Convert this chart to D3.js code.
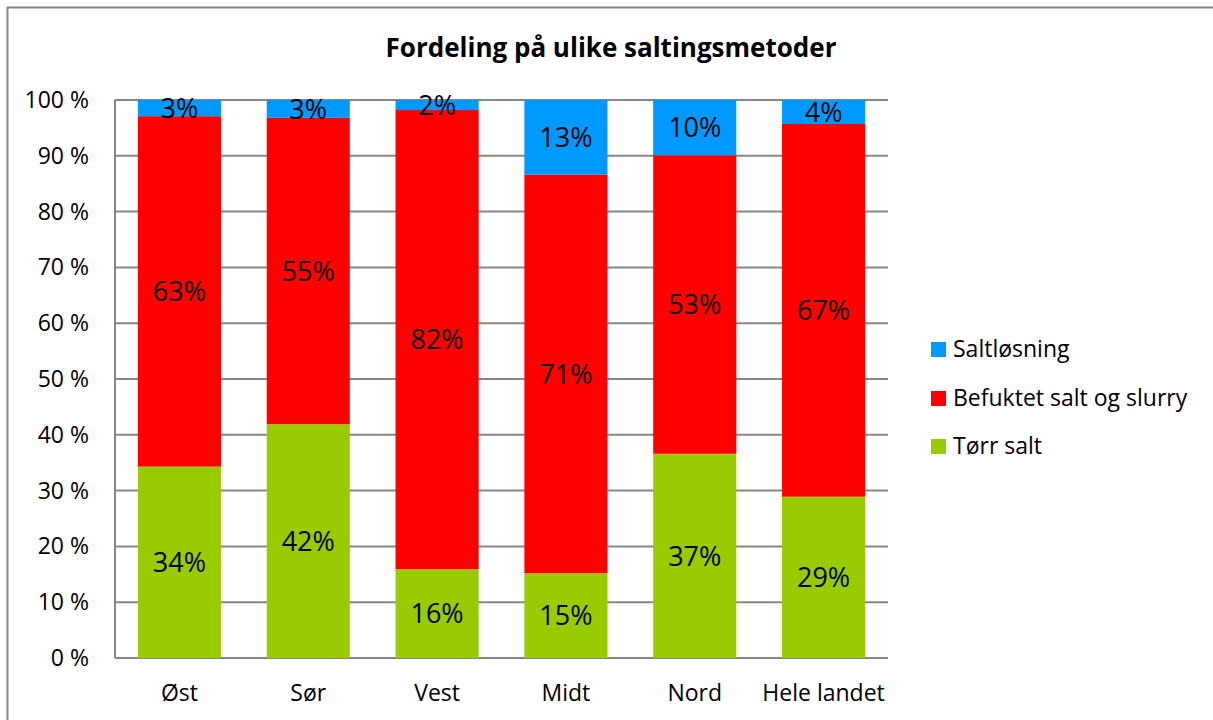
<!DOCTYPE html>
<html>
<head>
<meta charset="utf-8">
<script src="https://cdn.jsdelivr.net/npm/d3@7"></script>
<style>
  body { margin: 0; background: #fff; }
  text { font-family: "Open Sans", "Noto Sans", sans-serif; fill: #000; }
</style>
</head>
<body>
<svg id="chart"></svg>
<script>
// data
var regions = ["Øst", "Sør", "Vest", "Midt", "Nord", "Hele landet"];
var torrSalt = [34.3, 41.9, 15.9, 15.2, 36.6, 28.9];
var befuktet = [62.8, 54.9, 82.3, 71.4, 53.5, 66.8];
var saltlosning = [2.9, 3.2, 1.8, 13.4, 9.9, 4.3];
var seriesNames = ["Tørr salt", "Befuktet salt og slurry", "Saltløsning"];
var seriesLabels = [["34%", "42%", "16%", "15%", "37%", "29%"],
                    ["63%", "55%", "82%", "71%", "53%", "67%"],
                    ["3%", "3%", "2%", "13%", "10%", "4%"]];
var colors = ["#99CC00", "#FF0000", "#0099FF"];
var yTicks = [0, 10, 20, 30, 40, 50, 60, 70, 80, 90, 100];

var width = 1213, height = 720;
var margin = {left: 115, right: 325, top: 100, bottom: 62};

var svg = d3.select("#chart")
    .attr("width", width)
    .attr("height", height);

// outer frame
svg.append("rect")
    .attr("x", 7.5).attr("y", 7.5)
    .attr("width", width + 20).attr("height", height + 20)
    .attr("fill", "none")
    .attr("stroke", "#868686")
    .attr("stroke-width", 2);

svg.append("text")
    .attr("x", 611).attr("y", 57)
    .attr("text-anchor", "middle")
    .style("font-size", "26px")
    .style("font-weight", "bold")
    .text("Fordeling på ulike saltingsmetoder");

var x = d3.scaleBand()
    .domain(regions)
    .range([margin.left, width - margin.right])
    .paddingInner(0.355)
    .paddingOuter(0.1775);

var y = d3.scaleLinear()
    .domain([0, 100])
    .range([height - margin.bottom, margin.top]);

// gridlines
svg.append("g")
    .selectAll("line")
    .data(yTicks)
    .enter()
    .append("line")
    .attr("x1", margin.left).attr("x2", width - margin.right)
    .attr("y1", function(d){ return y(d); })
    .attr("y2", function(d){ return y(d); })
    .attr("stroke", "#868686")
    .attr("stroke-width", 2);

// y axis line
svg.append("line")
    .attr("x1", margin.left).attr("x2", margin.left)
    .attr("y1", y(0)).attr("y2", y(100))
    .attr("stroke", "#868686")
    .attr("stroke-width", 2);

// y tick labels
svg.append("g")
    .selectAll("text")
    .data(yTicks)
    .enter()
    .append("text")
    .attr("x", margin.left - 26)
    .attr("y", function(d){ return y(d); })
    .attr("dy", "0.35em")
    .attr("text-anchor", "end")
    .style("font-size", "23px")
    .text(function(d){ return d + " %"; });

// x labels
svg.append("g")
    .selectAll("text")
    .data(regions)
    .enter()
    .append("text")
    .attr("x", function(d){ return x(d) + x.bandwidth() / 2; })
    .attr("y", height - margin.bottom + 43)
    .attr("text-anchor", "middle")
    .style("font-size", "23px")
    .text(function(d){ return d; });

// stacked data
var table = regions.map(function(r, i){
    return {region: r, s0: torrSalt[i], s1: befuktet[i], s2: saltlosning[i]};
});
var stack = d3.stack().keys(["s0", "s1", "s2"]);
var layers = stack(table);

var g = svg.append("g")
    .selectAll("g")
    .data(layers)
    .enter()
    .append("g")
    .attr("fill", function(d, i){ return colors[i]; });

g.selectAll("rect")
    .data(function(d){ return d; })
    .enter()
    .append("rect")
    .attr("x", function(d){ return x(d.data.region); })
    .attr("width", x.bandwidth())
    .attr("y", function(d){ return y(d[1]); })
    .attr("height", function(d){ return y(d[0]) - y(d[1]); });

// data labels
layers.forEach(function(layer, li){
    svg.append("g")
        .selectAll("text")
        .data(layer)
        .enter()
        .append("text")
        .attr("x", function(d){ return x(d.data.region) + x.bandwidth() / 2; })
        .attr("y", function(d){ return (y(d[0]) + y(d[1])) / 2; })
        .attr("dy", "0.36em")
        .attr("text-anchor", "middle")
        .style("font-size", "27px")
        .text(function(d, i){ return seriesLabels[li][i]; });
});

// legend
var legendY = [446, 398, 349];
var legend = svg.append("g")
    .selectAll("g")
    .data(seriesNames)
    .enter()
    .append("g")
    .attr("transform", function(d, i){ return "translate(931," + legendY[i] + ")"; });

legend.append("rect")
    .attr("x", 0).attr("y", -7)
    .attr("width", 15).attr("height", 15)
    .attr("fill", function(d, i){ return colors[i]; });

legend.append("text")
    .attr("x", 22)
    .attr("y", 0)
    .attr("dy", "0.35em")
    .style("font-size", "23px")
    .text(function(d){ return d; });
</script>
</body>
</html>
